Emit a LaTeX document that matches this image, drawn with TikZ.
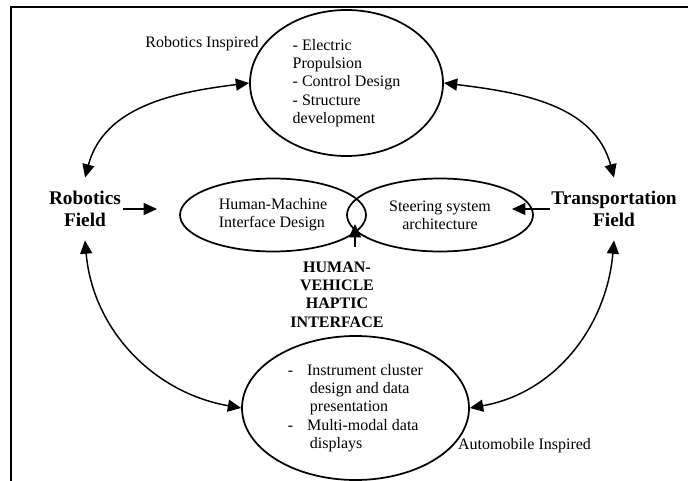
\documentclass[tikz,border=0pt]{standalone}
\usepackage{fontspec}
\setmainfont{Liberation Serif}
\usetikzlibrary{shapes,arrows.meta}

\begin{document}
\begin{tikzpicture}[%Haptic interface picture
  x=0.75pt, y=-0.75pt,
  font=\fontsize{12}{13.7}\selectfont,
  ellnode/.style={ellipse, draw=black, line width=1.3pt, inner sep=0pt},
  fieldnode/.style={font=\fontsize{14.5}{16.5}\selectfont\bfseries, align=center, inner xsep=1pt, inner ysep=10pt},
  arr/.style={line width=1.1pt, -{Triangle[length=10pt,width=9pt]}},
  biarr/.style={line width=1.1pt, {Triangle[length=10pt,width=9pt]}-{Triangle[length=10pt,width=9pt]}}
]
\useasboundingbox (0,0) rectangle (688,481);
\draw[line width=1.5pt] (10.5,481) -- (10.5,7.5) -- (688,7.5);

%Nodes
\node[ellnode, minimum width=144.75pt, minimum height=109.5pt, align=left] (robo) at (346.5,83)
  {- Electric\\Propulsion\\- Control Design\\- Structure\\development};
\node[ellnode, minimum width=139.5pt, minimum height=54.75pt, align=left] (hmi) at (273,215)
  {Human-Machine\\Interface Design};
\node[ellnode, minimum width=139.5pt, minimum height=54.75pt, align=center] (steer) at (440,215)
  {Steering system\\architecture};
\node[ellnode, minimum width=170.25pt, minimum height=108pt, align=left] (auto) at (355.5,408)
  {-\hspace*{10.3pt}Instrument cluster\\\hspace*{16.5pt}design and data\\\hspace*{16.5pt}presentation\\-\hspace*{10.3pt}Multi-modal data\\\hspace*{16.5pt}displays};
\node[fieldnode] (robfield) at (85,209) {Robotics\\Field};
\node[fieldnode] (transfield) at (614,209) {Transportation\\Field};
\node[font=\fontsize{12}{13.7}\selectfont\bfseries, align=center, inner ysep=11pt] (hvhi) at (337,294.5)
  {HUMAN-\\VEHICLE\\HAPTIC\\INTERFACE};
\node (roboinsp) at (202,44) {Robotics Inspired};
\node (autoinsp) at (524.5,446) {Automobile Inspired};
\coordinate (hmiin) at (157,209);
\coordinate (steerin) at (512,209);
\coordinate (lensin) at (355,224);

%Arrows
\draw[biarr] (robfield.north) to[out=75,in=187] (robo.west);
\draw[biarr] (transfield.north) to[out=105,in=-7] (robo.east);
\draw[biarr] (robfield.south) to[out=-85,in=170] (auto.west);
\draw[biarr] (transfield.south) to[out=-95,in=10] (auto.east);
\draw[arr] (robfield) -- (hmiin);
\draw[arr] (transfield) -- (steerin);
\draw[arr] (hvhi.north -| lensin) -- (lensin);
\end{tikzpicture}
\end{document}
